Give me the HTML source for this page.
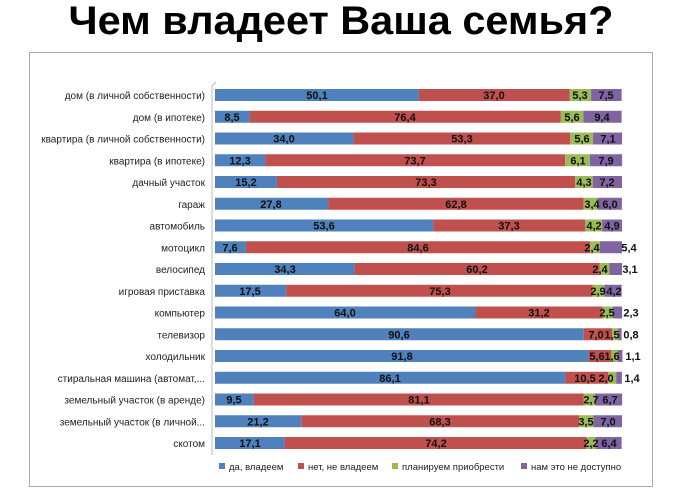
<!DOCTYPE html>
<html><head><meta charset="utf-8"><style>
body{margin:0;background:#fff;width:680px;height:493px;overflow:hidden}
svg{display:block;font-family:"Liberation Sans","DejaVu Sans",sans-serif}
.c{font-size:10px;fill:#222;text-anchor:end}
.v{font-size:11px;font-weight:bold;fill:#111;text-anchor:middle}
.lg{font-size:9.5px;fill:#222}
</style></head><body>
<svg width="680" height="493" viewBox="0 0 680 493">
<text x="341" y="34" text-anchor="middle" font-size="40" font-weight="bold" fill="#000" textLength="545" lengthAdjust="spacingAndGlyphs">Чем владеет Ваша семья?</text>
<rect x="29.5" y="52.5" width="623" height="434" fill="#fff" stroke="#aaa"/>
<line x1="212" y1="86" x2="212" y2="455" stroke="#bbb"/>
<line x1="212" y1="86" x2="216" y2="82" stroke="#bbb"/>
<defs><linearGradient id="sh" x1="0" y1="0" x2="0" y2="1"><stop offset="0" stop-color="#000" stop-opacity="0.15"/><stop offset="0.3" stop-color="#000" stop-opacity="0"/></linearGradient></defs>
<g id="rows">
<g transform="translate(0,95)"><text class="c" x="205" y="4">дом (в личной собственности)</text><rect x="215" y="-6" width="203.9" height="12" fill="#4F81BD"/><rect x="418.9" y="-6" width="150.6" height="12" fill="#C0504D"/><rect x="569.5" y="-6" width="21.6" height="12" fill="#9BBB59"/><rect x="591.1" y="-6" width="30.5" height="12" fill="#8064A2"/><text class="v" x="317" y="4">50,1</text><text class="v" x="494" y="4">37,0</text><text class="v" x="580" y="4">5,3</text><text class="v" x="606" y="4">7,5</text></g>
<g transform="translate(0,116.75)"><text class="c" x="205" y="4">дом (в ипотеке)</text><rect x="215" y="-6" width="34.6" height="12" fill="#4F81BD"/><rect x="249.6" y="-6" width="310.9" height="12" fill="#C0504D"/><rect x="560.5" y="-6" width="22.8" height="12" fill="#9BBB59"/><rect x="583.3" y="-6" width="38.3" height="12" fill="#8064A2"/><text class="v" x="232" y="4">8,5</text><text class="v" x="405" y="4">76,4</text><text class="v" x="572" y="4">5,6</text><text class="v" x="602" y="4">9,4</text></g>
<g transform="translate(0,138.5)"><text class="c" x="205" y="4">квартира (в личной собственности)</text><rect x="215" y="-6" width="138.4" height="12" fill="#4F81BD"/><rect x="353.4" y="-6" width="216.9" height="12" fill="#C0504D"/><rect x="570.3" y="-6" width="22.8" height="12" fill="#9BBB59"/><rect x="593.1" y="-6" width="28.9" height="12" fill="#8064A2"/><text class="v" x="284" y="4">34,0</text><text class="v" x="462" y="4">53,3</text><text class="v" x="582" y="4">5,6</text><text class="v" x="608" y="4">7,1</text></g>
<g transform="translate(0,160.25)"><text class="c" x="205" y="4">квартира (в ипотеке)</text><rect x="215" y="-6" width="50.1" height="12" fill="#4F81BD"/><rect x="265.1" y="-6" width="300" height="12" fill="#C0504D"/><rect x="565.1" y="-6" width="24.8" height="12" fill="#9BBB59"/><rect x="589.9" y="-6" width="32.2" height="12" fill="#8064A2"/><text class="v" x="240" y="4">12,3</text><text class="v" x="415" y="4">73,7</text><text class="v" x="578" y="4">6,1</text><text class="v" x="606" y="4">7,9</text></g>
<g transform="translate(0,182)"><text class="c" x="205" y="4">дачный участок</text><rect x="215" y="-6" width="61.9" height="12" fill="#4F81BD"/><rect x="276.9" y="-6" width="298.3" height="12" fill="#C0504D"/><rect x="575.2" y="-6" width="17.5" height="12" fill="#9BBB59"/><rect x="592.7" y="-6" width="29.3" height="12" fill="#8064A2"/><text class="v" x="246" y="4">15,2</text><text class="v" x="426" y="4">73,3</text><text class="v" x="584" y="4">4,3</text><text class="v" x="607" y="4">7,2</text></g>
<g transform="translate(0,203.75)"><text class="c" x="205" y="4">гараж</text><rect x="215" y="-6" width="113.1" height="12" fill="#4F81BD"/><rect x="328.1" y="-6" width="255.6" height="12" fill="#C0504D"/><rect x="583.7" y="-6" width="13.8" height="12" fill="#9BBB59"/><rect x="597.5" y="-6" width="24.4" height="12" fill="#8064A2"/><text class="v" x="271" y="4">27,8</text><text class="v" x="456" y="4">62,8</text><text class="v" x="592" y="4">3,4</text><text class="v" x="610" y="4">6,0</text></g>
<g transform="translate(0,225.5)"><text class="c" x="205" y="4">автомобиль</text><rect x="215" y="-6" width="218.2" height="12" fill="#4F81BD"/><rect x="433.2" y="-6" width="151.8" height="12" fill="#C0504D"/><rect x="585" y="-6" width="17.1" height="12" fill="#9BBB59"/><rect x="602.1" y="-6" width="19.9" height="12" fill="#8064A2"/><text class="v" x="324" y="4">53,6</text><text class="v" x="509" y="4">37,3</text><text class="v" x="594" y="4">4,2</text><text class="v" x="612" y="4">4,9</text></g>
<g transform="translate(0,247.25)"><text class="c" x="205" y="4">мотоцикл</text><rect x="215" y="-6" width="30.9" height="12" fill="#4F81BD"/><rect x="245.9" y="-6" width="344.3" height="12" fill="#C0504D"/><rect x="590.2" y="-6" width="9.8" height="12" fill="#9BBB59"/><rect x="600" y="-6" width="22" height="12" fill="#8064A2"/><text class="v" x="230" y="4">7,6</text><text class="v" x="418" y="4">84,6</text><text class="v" x="592" y="4">2,4</text><text class="v" x="629" y="4">5,4</text></g>
<g transform="translate(0,269)"><text class="c" x="205" y="4">велосипед</text><rect x="215" y="-6" width="139.6" height="12" fill="#4F81BD"/><rect x="354.6" y="-6" width="245" height="12" fill="#C0504D"/><rect x="599.6" y="-6" width="9.8" height="12" fill="#9BBB59"/><rect x="609.4" y="-6" width="12.6" height="12" fill="#8064A2"/><text class="v" x="285" y="4">34,3</text><text class="v" x="477" y="4">60,2</text><text class="v" x="600" y="4">2,4</text><text class="v" x="630" y="4">3,1</text></g>
<g transform="translate(0,290.75)"><text class="c" x="205" y="4">игровая приставка</text><rect x="215" y="-6" width="71.2" height="12" fill="#4F81BD"/><rect x="286.2" y="-6" width="306.5" height="12" fill="#C0504D"/><rect x="592.7" y="-6" width="11.8" height="12" fill="#9BBB59"/><rect x="604.5" y="-6" width="17.1" height="12" fill="#8064A2"/><text class="v" x="250" y="4">17,5</text><text class="v" x="440" y="4">75,3</text><text class="v" x="598" y="4">2,9</text><text class="v" x="614" y="4">4,2</text></g>
<g transform="translate(0,312.5)"><text class="c" x="205" y="4">компьютер</text><rect x="215" y="-6" width="260.5" height="12" fill="#4F81BD"/><rect x="475.5" y="-6" width="127" height="12" fill="#C0504D"/><rect x="602.5" y="-6" width="10.2" height="12" fill="#9BBB59"/><rect x="612.7" y="-6" width="9.4" height="12" fill="#8064A2"/><text class="v" x="345" y="4">64,0</text><text class="v" x="539" y="4">31,2</text><text class="v" x="607" y="4">2,5</text><text class="v" x="631" y="4">2,3</text></g>
<g transform="translate(0,334.25)"><text class="c" x="205" y="4">телевизор</text><rect x="215" y="-6" width="368.7" height="12" fill="#4F81BD"/><rect x="583.7" y="-6" width="28.5" height="12" fill="#C0504D"/><rect x="612.2" y="-6" width="6.1" height="12" fill="#9BBB59"/><rect x="618.3" y="-6" width="3.3" height="12" fill="#8064A2"/><text class="v" x="399" y="4">90,6</text><text class="v" x="596" y="4">7,0</text><text class="v" x="612" y="4">1,5</text><text class="v" x="631" y="4">0,8</text></g>
<g transform="translate(0,356)"><text class="c" x="205" y="4">холодильник</text><rect x="215" y="-6" width="373.6" height="12" fill="#4F81BD"/><rect x="588.6" y="-6" width="22.8" height="12" fill="#C0504D"/><rect x="611.4" y="-6" width="6.5" height="12" fill="#9BBB59"/><rect x="617.9" y="-6" width="4.5" height="12" fill="#8064A2"/><text class="v" x="402" y="4">91,8</text><text class="v" x="597" y="4">5,6</text><text class="v" x="612" y="4">1,6</text><text class="v" x="633" y="4">1,1</text></g>
<g transform="translate(0,377.75)"><text class="c" x="205" y="4">стиральная машина (автомат,...</text><rect x="215" y="-6" width="350.4" height="12" fill="#4F81BD"/><rect x="565.4" y="-6" width="42.7" height="12" fill="#C0504D"/><rect x="608.1" y="-6" width="8.1" height="12" fill="#9BBB59"/><rect x="616.2" y="-6" width="5.7" height="12" fill="#8064A2"/><text class="v" x="390" y="4">86,1</text><text class="v" x="585" y="4">10,5</text><text class="v" x="606" y="4">2,0</text><text class="v" x="632" y="4">1,4</text></g>
<g transform="translate(0,399.5)"><text class="c" x="205" y="4">земельный участок (в аренде)</text><rect x="215" y="-6" width="38.7" height="12" fill="#4F81BD"/><rect x="253.7" y="-6" width="330.1" height="12" fill="#C0504D"/><rect x="583.8" y="-6" width="11" height="12" fill="#9BBB59"/><rect x="594.8" y="-6" width="27.3" height="12" fill="#8064A2"/><text class="v" x="234" y="4">9,5</text><text class="v" x="419" y="4">81,1</text><text class="v" x="591" y="4">2,7</text><text class="v" x="610" y="4">6,7</text></g>
<g transform="translate(0,421.25)"><text class="c" x="205" y="4">земельный участок (в личной...</text><rect x="215" y="-6" width="86.3" height="12" fill="#4F81BD"/><rect x="301.3" y="-6" width="278" height="12" fill="#C0504D"/><rect x="579.3" y="-6" width="14.2" height="12" fill="#9BBB59"/><rect x="593.5" y="-6" width="28.5" height="12" fill="#8064A2"/><text class="v" x="258" y="4">21,2</text><text class="v" x="440" y="4">68,3</text><text class="v" x="586" y="4">3,5</text><text class="v" x="608" y="4">7,0</text></g>
<g transform="translate(0,443)"><text class="c" x="205" y="4">скотом</text><rect x="215" y="-6" width="69.6" height="12" fill="#4F81BD"/><rect x="284.6" y="-6" width="302" height="12" fill="#C0504D"/><rect x="586.6" y="-6" width="9" height="12" fill="#9BBB59"/><rect x="595.6" y="-6" width="26" height="12" fill="#8064A2"/><text class="v" x="250" y="4">17,1</text><text class="v" x="436" y="4">74,2</text><text class="v" x="591" y="4">2,2</text><text class="v" x="609" y="4">6,4</text></g>
</g>
<rect x="219" y="463" width="6" height="6" fill="#4F81BD"/><text class="lg" x="229" y="470">да, владеем</text>
<rect x="298" y="463" width="6" height="6" fill="#C0504D"/><text class="lg" x="308" y="470">нет, не владеем</text>
<rect x="392" y="463" width="6" height="6" fill="#9BBB59"/><text class="lg" x="402" y="470">планируем приобрести</text>
<rect x="521" y="463" width="6" height="6" fill="#8064A2"/><text class="lg" x="531" y="470">нам это не доступно</text>
</svg>
</body></html>
